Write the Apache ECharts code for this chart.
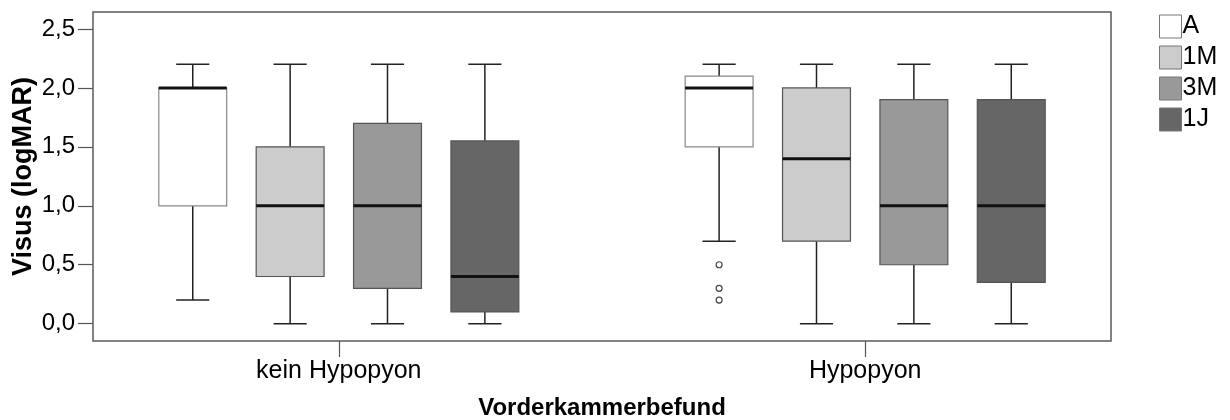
<!DOCTYPE html>
<html>
<head>
<meta charset="utf-8">
<title>Visus nach Vorderkammerbefund</title>
<script src="https://cdn.jsdelivr.net/npm/echarts@6/dist/echarts.min.js"></script>
<style>
    html, body { margin: 0; padding: 0; background: #fff; }
    #chart { width: 1230px; height: 420px; }
</style>
</head>
<body>
<div id="chart"></div>
<script>
// categories on the x axis and the four time points (legend)
const groups = ['kein Hypopyon', 'Hypopyon'];
const timepoints = ['A', '1M', '3M', '1J'];
const fills = ['#ffffff', '#cccccc', '#999999', '#666666'];

// box values per group: [min, Q1, median, Q3, max]
const boxA = [[0.2, 1.0, 2.0, 2.0, 2.2], [0.7, 1.5, 2.0, 2.1, 2.2]];
const box1M = [[0.0, 0.4, 1.0, 1.5, 2.2], [0.0, 0.7, 1.4, 2.0, 2.2]];
const box3M = [[0.0, 0.3, 1.0, 1.7, 2.2], [0.0, 0.5, 1.0, 1.9, 2.2]];
const box1J = [[0.0, 0.1, 0.4, 1.55, 2.2], [0.0, 0.35, 1.0, 1.9, 2.2]];
const boxes = [boxA, box1M, box3M, box1J];

// outliers of time point A, per group
const outliersA = [[], [0.5, 0.3, 0.2]];

const yTicks = [0, 0.5, 1.0, 1.5, 2.0, 2.5];

const font = '"Liberation Sans", Arial, sans-serif';

// layout inside one group (in units of group distance)
const boxStep = 0.185;
const boxWidth = 0.129;
const capWidth = 0.063;

function slotX(api, g, slot) {
    const unit = api.size([1, 0])[0];
    return api.coord([g, 0])[0] + (slot - 1.5) * boxStep * unit;
}

function makeBoxRenderer(slot) {
    return function (params, api) {
        const g = api.value(0);
        const unit = api.size([1, 0])[0];
        const cx = slotX(api, g, slot);
        const y = i => api.coord([g, api.value(i)])[1];
        const half = boxWidth * unit / 2;
        const cap = capWidth * unit / 2;
        const yMin = y(1), yQ1 = y(2), yMed = y(3), yQ3 = y(4), yMax = y(5);
        const whisker = { stroke: '#222', lineWidth: 1.5 };
        return {
            type: 'group',
            children: [
                { type: 'line', shape: { x1: cx, y1: yMax, x2: cx, y2: yQ3 }, style: whisker },
                { type: 'line', shape: { x1: cx, y1: yQ1, x2: cx, y2: yMin }, style: whisker },
                { type: 'line', shape: { x1: cx - cap, y1: yMax, x2: cx + cap, y2: yMax }, style: whisker },
                { type: 'line', shape: { x1: cx - cap, y1: yMin, x2: cx + cap, y2: yMin }, style: whisker },
                {
                    type: 'rect',
                    shape: { x: cx - half, y: yQ3, width: half * 2, height: yQ1 - yQ3 },
                    style: { fill: api.visual('color'), stroke: slot === 0 ? '#888' : '#555', lineWidth: 1.2 }
                },
                {
                    type: 'line',
                    shape: { x1: cx - half, y1: yMed, x2: cx + half, y2: yMed },
                    style: { stroke: '#111', lineWidth: 3 }
                }
            ]
        };
    };
}

function renderOutlier(params, api) {
    const g = api.value(0);
    const p = api.coord([g, api.value(1)]);
    return {
        type: 'circle',
        shape: { cx: slotX(api, g, 0), cy: p[1], r: 3 },
        style: { fill: '#fff', stroke: '#444', lineWidth: 1.2 }
    };
}

const series = timepoints.map((name, k) => ({
    name: name,
    type: 'custom',
    renderItem: makeBoxRenderer(k),
    itemStyle: { color: fills[k] },
    encode: { x: 0, y: [1, 2, 3, 4, 5] },
    data: boxes[k].map((b, g) => [g].concat(b)),
    silent: true
}));

series.push({
    name: 'Ausreißer A',
    type: 'custom',
    renderItem: renderOutlier,
    encode: { x: 0, y: 1 },
    data: outliersA.flatMap((vals, g) => vals.map(v => [g, v])),
    silent: true
});

const chart = echarts.init(document.getElementById('chart'));
chart.setOption({
    animation: false,
    backgroundColor: '#fff',
    textStyle: { fontFamily: font },
    grid: {
        left: 93,
        right: 119,
        top: 12,
        bottom: 79,
        show: true,
        borderColor: '#5a5a5a',
        borderWidth: 1.5,
        containLabel: false,
        outerBoundsMode: 'none'
    },
    legend: {
        orient: 'vertical',
        left: 1154,
        top: 9,
        itemWidth: 22,
        itemHeight: 23,
        itemGap: 6,
        icon: 'rect',
        textStyle: { fontSize: 25, color: '#000', fontFamily: font, padding: [0, 0, 0, -4] },
        data: timepoints.map((name, k) => ({
            name: name,
            itemStyle: { color: fills[k], borderColor: '#777', borderWidth: 1 }
        }))
    },
    xAxis: {
        type: 'value',
        min: -0.467,
        max: 1.467,
        name: 'Vorderkammerbefund',
        nameLocation: 'middle',
        nameGap: 55,
        nameMoveOverlap: false,
        nameTextStyle: { fontSize: 24, fontWeight: 'bold', color: '#000', fontFamily: font },
        axisLine: { show: false, onZero: false },
        splitLine: { show: false },
        axisTick: {
            show: true,
            length: 16,
            customValues: [0, 1],
            lineStyle: { color: '#555', width: 1.2 }
        },
        axisLabel: {
            customValues: [0, 1],
            margin: 18,
            fontSize: 25,
            color: '#000',
            fontFamily: font,
            formatter: v => groups[Math.round(v)]
        }
    },
    yAxis: {
        type: 'value',
        min: -0.147,
        max: 2.644,
        name: 'Visus (logMAR)',
        nameLocation: 'middle',
        nameGap: 56,
        nameMoveOverlap: false,
        nameTextStyle: { fontSize: 27, fontWeight: 'bold', color: '#000', fontFamily: font },
        axisLine: { show: false, onZero: false },
        splitLine: { show: false },
        axisTick: {
            show: true,
            length: 15,
            customValues: yTicks,
            lineStyle: { color: '#555', width: 1.2 }
        },
        axisLabel: {
            customValues: yTicks,
            margin: 18,
            fontSize: 24,
            color: '#000',
            fontFamily: font,
            formatter: v => v.toFixed(1).replace('.', ',')
        }
    },
    series: series
});
</script>
</body>
</html>
